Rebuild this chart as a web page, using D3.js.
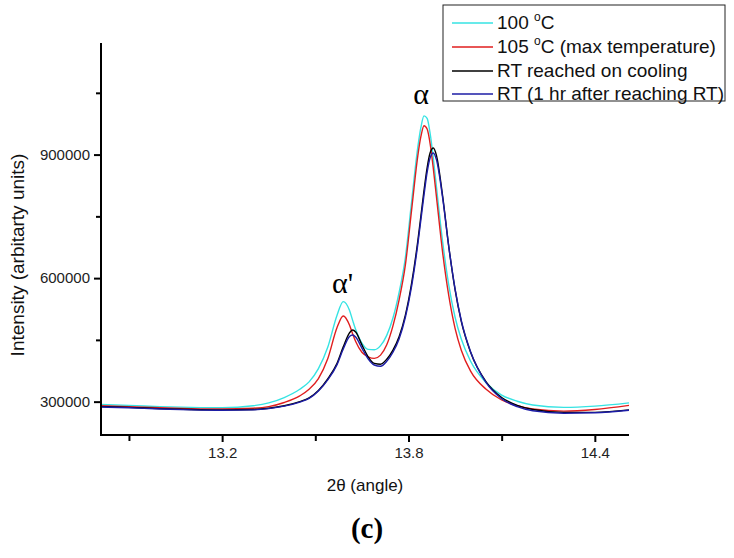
<!DOCTYPE html>
<html><head><meta charset="utf-8">
<script src="https://cdn.jsdelivr.net/npm/d3@7"></script>
<style>body{margin:0;background:#fff}svg{display:block}</style>
</head><body>
<svg id="chart" width="734" height="558"></svg>
<script>
const angles = [12.81,12.9,13.0,13.1,13.2,13.3,13.35,13.4,13.45,13.48,13.51,13.54,13.57,13.59,13.61,13.62,13.63,13.65,13.67,13.69,13.71,13.73,13.75,13.77,13.79,13.81,13.83,13.84,13.85,13.86,13.87,13.88,13.89,13.91,13.93,13.95,13.97,14.0,14.05,14.1,14.15,14.2,14.3,14.4,14.51];
const s100 = [293000,291000,288000,286000,285000,290000,297000,310000,330000,348000,380000,432000,510000,543000,522000,498000,475000,442000,427000,426000,436000,461000,503000,566000,650000,785000,918000,966000,994000,988000,950000,891000,822000,688000,582000,505000,452000,398000,346000,316000,301000,292000,286000,289000,297000];
const s105 = [290000,288000,285000,283000,282000,284000,288000,298000,314000,330000,356000,404000,480000,508000,486000,465000,446000,420000,409000,405000,413000,438000,484000,548000,632000,765000,897000,944000,970000,962000,925000,866000,798000,662000,556000,478000,425000,374000,330000,304000,290000,282000,277000,281000,291000];
const sCool = [288000,286000,283000,281000,280000,281000,284000,290000,300000,309000,327000,355000,393000,433000,467000,474000,469000,438000,409000,393000,391000,403000,425000,458000,510000,587000,690000,751000,813000,868000,905000,916000,898000,799000,675000,572000,495000,420000,348000,310000,291000,281000,274000,274000,280000];
const s1hr = [287000,285000,282000,280000,279000,280000,283000,289000,299000,308000,326000,353000,390000,428000,458000,462000,457000,430000,404000,389000,386000,398000,420000,453000,505000,580000,682000,742000,802000,857000,893000,904000,888000,795000,675000,574000,497000,421000,346000,307000,288000,278000,272000,273000,279000];
const seriesNames = ["100 °C","105 °C (max temperature)","RT reached on cooling","RT (1 hr after reaching RT)"];
const seriesColors = ["#36e3e3","#e01e1e","#000000","#1c1ca6"];
const xMajor = [13.2,13.8,14.4];
const xMinor = [12.9,13.5,14.1];
const yMajor = [300000,600000,900000];
const yMinor = [450000,750000,1050000];

const svg = d3.select("#chart");
const x = d3.scaleLinear().domain([12.81,14.51]).range([101,629]);
const y = d3.scaleLinear().domain([219000,1171000]).range([435,43]);
const font = "Arial, 'Liberation Sans', sans-serif";

// curves
const allSeries = [s100,s105,sCool,s1hr];
const line = d3.line().x((d,i)=>x(angles[i])).y(d=>y(d)).curve(d3.curveMonotoneX);
allSeries.forEach((s,k)=>{
  svg.append("path").datum(s).attr("d",line).attr("fill","none")
    .attr("stroke",seriesColors[k]).attr("stroke-width",1.4);
});

// axes
const gx = svg.append("g").attr("transform","translate(0,435)");
gx.call(d3.axisBottom(x).tickValues(xMajor).tickSize(7).tickPadding(5).tickFormat(d3.format(".1f")));
gx.append("g").call(d3.axisBottom(x).tickValues(xMinor).tickSize(6).tickFormat(""));
gx.selectAll(".domain").remove();
gx.selectAll("line").attr("stroke","#000").attr("stroke-width",2);
gx.selectAll("text").attr("font-family",font).attr("font-size",15).attr("fill","#222");

const gy = svg.append("g").attr("transform","translate(101,0)");
gy.call(d3.axisLeft(y).tickValues(yMajor).tickSize(7).tickPadding(4).tickFormat(d3.format("d")));
gy.append("g").call(d3.axisLeft(y).tickValues(yMinor).tickSize(5).tickFormat(""));
gy.selectAll(".domain").remove();
gy.selectAll("line").attr("stroke","#000").attr("stroke-width",2);
gy.selectAll("text").attr("font-family",font).attr("font-size",15).attr("fill","#222");

svg.append("line").attr("x1",x.range()[0]).attr("x2",x.range()[1]).attr("y1",y.range()[0]).attr("y2",y.range()[0]).attr("stroke","#000").attr("stroke-width",2);
svg.append("line").attr("x1",x.range()[0]).attr("x2",x.range()[0]).attr("y1",y.range()[0]+1).attr("y2",y.range()[1]).attr("stroke","#000").attr("stroke-width",2);

// titles
svg.append("text").attr("x",365).attr("y",491).attr("text-anchor","middle")
  .attr("font-family",font).attr("font-size",17).attr("fill","#111").text("2θ (angle)");
svg.append("text").attr("transform","translate(24,255) rotate(-90)").attr("text-anchor","middle")
  .attr("font-family",font).attr("font-size",19).attr("fill","#111").text("Intensity (arbitarty units)");
svg.append("text").attr("x",367).attr("y",538).attr("text-anchor","middle")
  .attr("font-family","'Liberation Serif', serif").attr("font-weight","bold").attr("font-size",29).text("(c)");

// peak labels
svg.append("text").attr("x",421).attr("y",104).attr("text-anchor","middle")
  .attr("font-family","'Liberation Serif', serif").attr("font-size",30).text("α");
svg.append("text").attr("x",332).attr("y",293)
  .attr("font-family","'Liberation Serif', serif").attr("font-size",30).text("α'");

// legend
const lg = svg.append("g");
lg.append("rect").attr("x",443).attr("y",5).attr("width",282).attr("height",96)
  .attr("fill","#fff").attr("stroke","#222").attr("stroke-width",1);
const rowY = [23,47,71,94];
seriesNames.forEach((n,k)=>{
  lg.append("line").attr("x1",452).attr("x2",493).attr("y1",rowY[k]).attr("y2",rowY[k])
    .attr("stroke",seriesColors[k]).attr("stroke-width",1.4);
  const t = lg.append("text").attr("x",497).attr("y",rowY[k]+6)
    .attr("font-family",font).attr("font-size",19).attr("fill","#111");
  if (n.indexOf("°C")>=0) {
    const parts = n.split("°C");
    t.append("tspan").text(parts[0]);
    t.append("tspan").attr("dy",-8).attr("font-size",12).text("o");
    t.append("tspan").attr("dy",8).text("C"+parts[1]);
  } else t.text(n);
});
</script>
</body></html>
